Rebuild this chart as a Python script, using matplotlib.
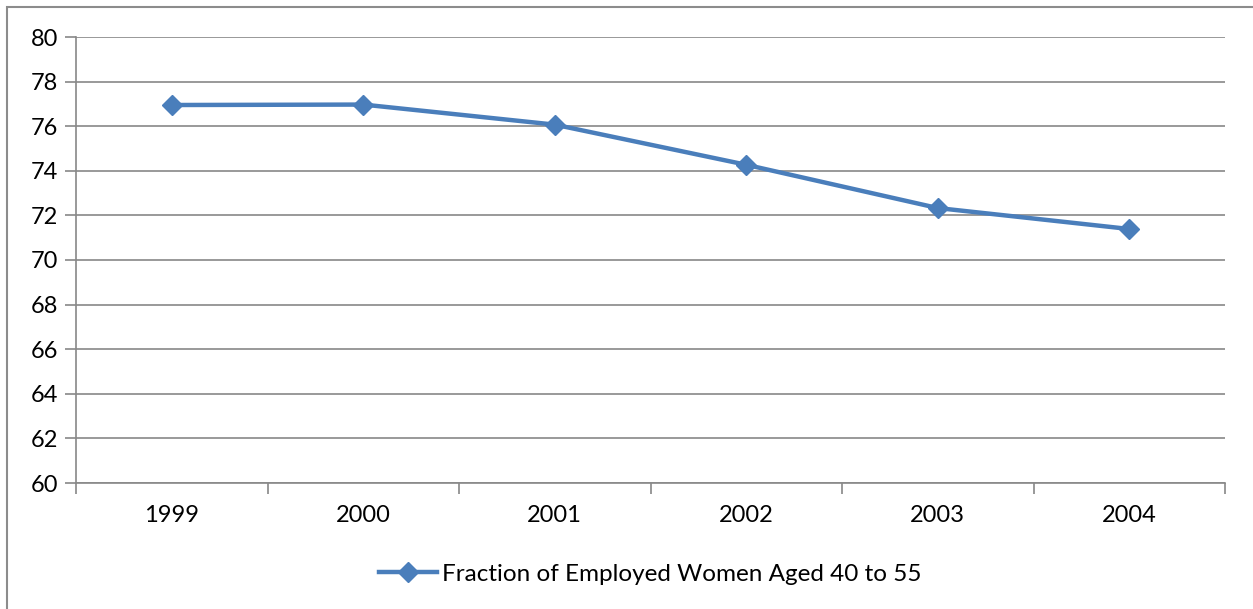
import matplotlib.pyplot as plt
from matplotlib.patches import Rectangle

years = ['1999', '2000', '2001', '2002', '2003', '2004']
fraction = [76.95, 76.97, 76.07, 74.27, 72.33, 71.39]
series_name = 'Fraction of Employed Women Aged 40 to 55'
y_ticks = list(range(60, 81, 2))

plt.rcParams['font.family'] = ['Lato', 'DejaVu Sans']
grid_col = '#888888'

fig = plt.figure(figsize=(12.53, 6.09), dpi=100)
# outer chart border (cut off at right / bottom like the source)
fig.patches.append(Rectangle((7/1253, -0.1), 1.2, 1 - 7/609 + 0.1, transform=fig.transFigure,
                             fill=False, edgecolor='#8c8c8c', linewidth=1.5))

ax = fig.add_axes([76/1253, 1 - 483/609, 1149/1253, 446/609])
x = list(range(len(years)))
ax.plot(x, fraction, color='#4A7EBB', linewidth=3.2, marker='D', markersize=10,
        label=series_name, zorder=3)

ax.set_xlim(-0.5, len(years) - 0.5)
ax.set_ylim(60, 80)
ax.set_yticks(y_ticks)
ax.set_xticks(x)
ax.set_xticklabels(years)
ax.set_xticks([i - 0.5 for i in range(len(years) + 1)], minor=True)
ax.yaxis.grid(True, color=grid_col, linewidth=1.2)
ax.set_axisbelow(True)
for s in ['top', 'right']:
    ax.spines[s].set_visible(False)
for s in ['left', 'bottom']:
    ax.spines[s].set_color(grid_col)
    ax.spines[s].set_linewidth(1.2)
ax.tick_params(axis='y', length=8, width=1.2, color=grid_col, labelsize=17, pad=5)
ax.tick_params(axis='x', which='major', length=0, labelsize=17, pad=16)
ax.tick_params(axis='x', which='minor', length=8, width=1.2, color=grid_col)

ax.legend(loc='center', bbox_to_anchor=(0.5, -0.205), frameon=False, fontsize=17.5,
          handlelength=2.4, handletextpad=0.2)

fig.savefig('out.png', dpi=100)
